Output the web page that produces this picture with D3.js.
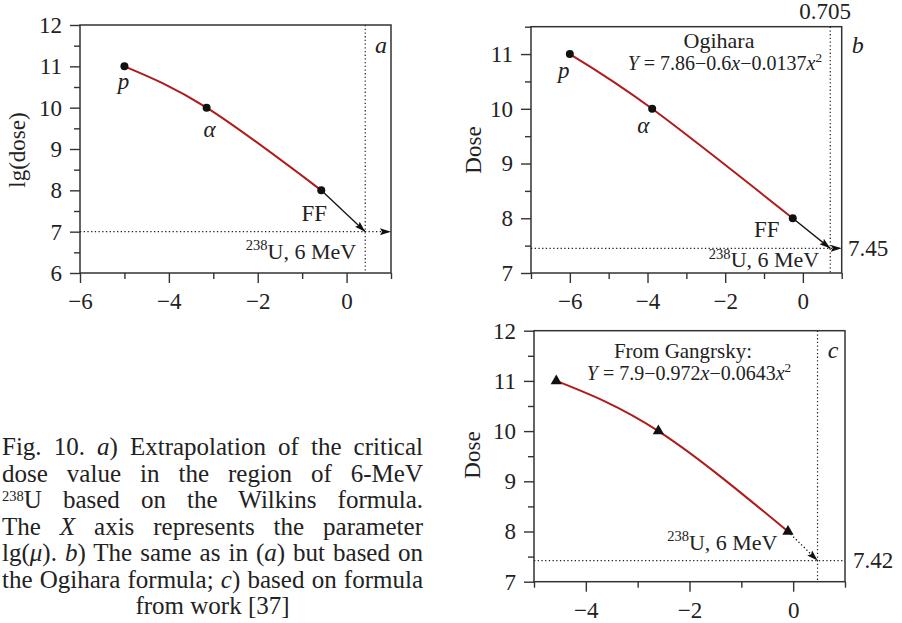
<!DOCTYPE html>
<html><head><meta charset="utf-8">
<script src="https://cdn.jsdelivr.net/npm/d3@7"></script>
<style>body{margin:0;background:#fff}svg{display:block}text{fill:#222;font-family:"Liberation Serif",serif}</style>
</head><body>
<svg id="chart" width="902" height="623"></svg>
<script>
// ---------- data ----------
const pointsAx = [-5.0, -3.15, -0.57];
const pointsAy = [11, 10, 8];
const extrapA = [0.42, 7];

const pointsBx = [-6.0, -3.88, -0.26];
const pointsBy = [11, 10, 8];
const extrapB = [0.705, 7.45];

const pointsCx = [-4.57, -2.6, -0.1];
const pointsCy = [11, 10, 8];
const extrapC = [0.47, 7.42];

const xMajorA = [-6, -4, -2, 0], xMinorA = [-5, -3, -1, 1];
const yMajorA = [6, 7, 8, 9, 10, 11, 12], yMinorA = [6.5, 7.5, 8.5, 9.5, 10.5, 11.5];
const xMajorB = [-6, -4, -2, 0], xMinorB = [-7, -5, -3, -1, 1];
const yMajorB = [7, 8, 9, 10, 11], yMinorB = [7.5, 8.5, 9.5, 10.5, 11.5];
const xMajorC = [-4, -2, 0], xMinorC = [-5, -3, -1, 1];
const yMajorC = [7, 8, 9, 10, 11, 12], yMinorC = [7.5, 8.5, 9.5, 10.5, 11.5];

const pointLabels = ["p", "α", "FF"];

const captionLines = [
  [{t:"Fig. 10. "},{t:"a",i:1},{t:") Extrapolation of the critical"}],
  [{t:"dose value in the region of 6-MeV"}],
  [{t:"238",sup:1},{t:"U based on the Wilkins formula."}],
  [{t:"The "},{t:"X",i:1},{t:" axis represents the parameter"}],
  [{t:"lg("},{t:"μ",i:1},{t:"). "},{t:"b",i:1},{t:") The same as in ("},{t:"a",i:1},{t:") but based on"}],
  [{t:"the Ogihara formula; "},{t:"c",i:1},{t:") based on formula"}],
  [{t:"from work [37]"}]
];

// ---------- drawing ----------
const FONT = '"Liberation Serif", serif';
const svg = d3.select("#chart");
const defs = svg.append("defs");
defs.append("marker").attr("id","arr").attr("viewBox","0 0 11 7").attr("refX",11).attr("refY",3.5)
  .attr("markerWidth",11).attr("markerHeight",7).attr("markerUnits","userSpaceOnUse").attr("orient","auto")
  .append("path").attr("d","M0,0L11,3.5L0,7L2,3.5Z").attr("fill","#111");

const INK = "#333";

function rich(g, x, y, anchor, segs, size, supScale = 0.66, supRaise = 0.4) {
  const t = g.append("text").attr("x", x).attr("y", y).attr("text-anchor", anchor).attr("font-size", size)
    .style("font-family", FONT);
  let shift = 0;
  segs.forEach(s => {
    const ts = t.append("tspan").text(s.t);
    if (s.i) ts.attr("font-style", "italic");
    if (s.sup) { ts.attr("font-size", size * supScale).attr("dy", -size * supRaise - shift); shift = -size * supRaise; }
    else if (shift !== 0) { ts.attr("dy", -shift); shift = 0; }
  });
  return t;
}

function panel(cfg) {
  const g = svg.append("g");
  const x = d3.scaleLinear().domain(cfg.xd).range([cfg.l, cfg.r]);
  const y = d3.scaleLinear().domain(cfg.yd).range([cfg.b, cfg.t]);

  const ax = (axis, tr) => {
    const a = g.append("g").attr("transform", tr).call(axis).attr("font-family", null).attr("font-size", null);
    a.select(".domain").remove();
    a.selectAll("line").attr("stroke", INK).attr("stroke-width", 1.4);
    a.selectAll("text").attr("font-size", 23).attr("fill", "#222").style("font-family", FONT);
    return a;
  };
  ax(d3.axisLeft(y).tickValues(cfg.yMaj).tickSize(10).tickPadding(8).tickFormat(d3.format("d")), `translate(${cfg.l},0)`);
  ax(d3.axisLeft(y).tickValues(cfg.yMin).tickSize(6).tickFormat(() => ""), `translate(${cfg.l},0)`);
  ax(d3.axisBottom(x).tickValues(cfg.xMaj).tickSize(10).tickPadding(10).tickFormat(d3.format("d")), `translate(0,${cfg.b})`);
  ax(d3.axisBottom(x).tickValues(cfg.xMin).tickSize(6).tickFormat(() => ""), `translate(0,${cfg.b})`);

  g.append("rect").attr("x", cfg.l).attr("y", cfg.t).attr("width", cfg.r - cfg.l).attr("height", cfg.b - cfg.t)
    .attr("fill", "none").attr("stroke", INK).attr("stroke-width", 1.5);

  const ex = x(cfg.ext[0]), ey = y(cfg.ext[1]);
  g.append("line").attr("x1", ex).attr("x2", ex).attr("y1", cfg.t).attr("y2", cfg.b)
    .attr("stroke", "#222").attr("stroke-width", 1.2).attr("stroke-dasharray", "1.3,2.4");
  const h = g.append("line").attr("x1", cfg.l).attr("x2", cfg.r).attr("y1", ey).attr("y2", ey)
    .attr("stroke", "#222").attr("stroke-width", 1.2).attr("stroke-dasharray", "1.3,2.4");
  if (cfg.hArrow) h.attr("marker-end", "url(#arr)");

  const pts = cfg.px.map((d, i) => [d, cfg.py[i]]);
  g.append("path").datum(pts)
    .attr("d", d3.line().x(d => x(d[0])).y(d => y(d[1])).curve(d3.curveNatural))
    .attr("fill", "none").attr("stroke", "#b01a1a").attr("stroke-width", 2);

  const last = pts[pts.length - 1];
  g.append("line").attr("x1", x(last[0])).attr("y1", y(last[1])).attr("x2", ex).attr("y2", ey)
    .attr("stroke", "#111").attr("stroke-width", 1.3)
    .attr("stroke-dasharray", cfg.dottedArrow ? "1.3,2.4" : null)
    .attr("marker-end", "url(#arr)");

  if (cfg.tri) {
    g.selectAll(".m").data(pts).join("path")
      .attr("d", d3.symbol(d3.symbolTriangle, 55))
      .attr("transform", d => `translate(${x(d[0])},${y(d[1])})`).attr("fill", "#111");
  } else {
    g.selectAll(".m").data(pts).join("circle")
      .attr("cx", d => x(d[0])).attr("cy", d => y(d[1])).attr("r", 4).attr("fill", "#111");
  }

  g.append("text").attr("transform", `translate(${cfg.yl[0]},${cfg.yl[1]}) rotate(-90)`)
    .attr("text-anchor", "middle").attr("dominant-baseline", "central").attr("font-size", 23).text(cfg.ytitle);

  if (cfg.lab) cfg.lab.forEach((o, i) => {
    g.append("text").attr("x", x(pts[i][0]) + o[0]).attr("y", y(pts[i][1]) + o[1])
      .attr("text-anchor", "middle").attr("font-size", 23)
      .attr("font-style", i < 2 ? "italic" : null).text(pointLabels[i]);
  });

  rich(g, ex + cfg.uOff[0], ey + cfg.uOff[1], "end", [{t:"238",sup:1},{t:"U, 6 MeV"}], 22);

  g.append("text").attr("x", cfg.r + cfg.let[1]).attr("y", cfg.t + cfg.let[2])
    .attr("text-anchor", "middle").attr("font-style", "italic").attr("font-size", 24).text(cfg.let[0]);
  return {g, x, y, ex, ey};
}

// Panel a
panel({l:80, r:391, t:25, b:273, xd:[-6,1], yd:[6,12],
  xMaj:xMajorA, xMin:xMinorA, yMaj:yMajorA, yMin:yMinorA,
  px:pointsAx, py:pointsAy, ext:extrapA, hArrow:true,
  yl:[17,150], ytitle:"lg(dose)",
  lab:[[-1,23],[3,29],[-7,31]], uOff:[-9,27], let:["a",-10,28]});

// Panel b
const B = panel({l:531, r:841.7, t:26.7, b:273, xd:[-7,1], yd:[7,11.5],
  xMaj:xMajorB, xMin:xMinorB, yMaj:yMajorB, yMin:yMinorB,
  px:pointsBx, py:pointsBy, ext:extrapB, hArrow:true,
  yl:[473,150], ytitle:"Dose",
  lab:[[-6,24],[-9,24],[-26,19]], uOff:[-11,19], let:["b",16,26]});
B.g.append("text").attr("x", B.ex - 5).attr("y", 19).attr("text-anchor","middle").attr("font-size",23).text(d3.format(".3f")(extrapB[0]));
B.g.append("text").attr("x", 848).attr("y", B.ey).attr("dominant-baseline","central").attr("font-size",23).text(d3.format(".2f")(extrapB[1]));
B.g.append("text").attr("x", 719).attr("y", 48).attr("text-anchor","middle").attr("font-size",22).text("Ogihara");
rich(B.g, 822, 70, "end", [{t:"Y",i:1},{t:" = 7.86−0.6"},{t:"x",i:1},{t:"−0.0137"},{t:"x",i:1},{t:"2",sup:1}], 20);

// Panel c
const C = panel({l:534, r:845, t:330.7, b:581.7, xd:[-5,1], yd:[7,12],
  xMaj:xMajorC, xMin:xMinorC, yMaj:yMajorC, yMin:yMinorC,
  px:pointsCx, py:pointsCy, ext:extrapC, hArrow:false, dottedArrow:true, tri:true,
  yl:[472,455], ytitle:"Dose",
  lab:null, uOff:[-40,-11], let:["c",-12,27]});
C.g.append("text").attr("x", 853).attr("y", C.ey).attr("dominant-baseline","central").attr("font-size",23).text(d3.format(".2f")(extrapC[1]));
C.g.append("text").attr("x", 683).attr("y", 358).attr("text-anchor","middle").attr("font-size",21).text("From Gangrsky:");
rich(C.g, 689, 380, "middle", [{t:"Y",i:1},{t:" = 7.9−0.972"},{t:"x",i:1},{t:"−0.0643"},{t:"x",i:1},{t:"2",sup:1}], 20);

// Caption (justified)
const cap = svg.append("g");
const capL = 2, capR = 423, capBase = 455, capStep = 26.5, capSize = 25;
captionLines.forEach((segs, i) => {
  const last = i === captionLines.length - 1;
  const t = rich(cap, last ? (capL + capR) / 2 : capL, capBase + i * capStep, last ? "middle" : "start", segs, capSize, 0.58, 0.3);
  if (!last) {
    const full = segs.map(s => s.t).join("");
    const nSp = (full.match(/ /g) || []).length;
    const w = t.node().getComputedTextLength();
    if (nSp > 0) t.style("word-spacing", ((capR - capL - w) / nSp) + "px");
  }
});
</script>
</body></html>
